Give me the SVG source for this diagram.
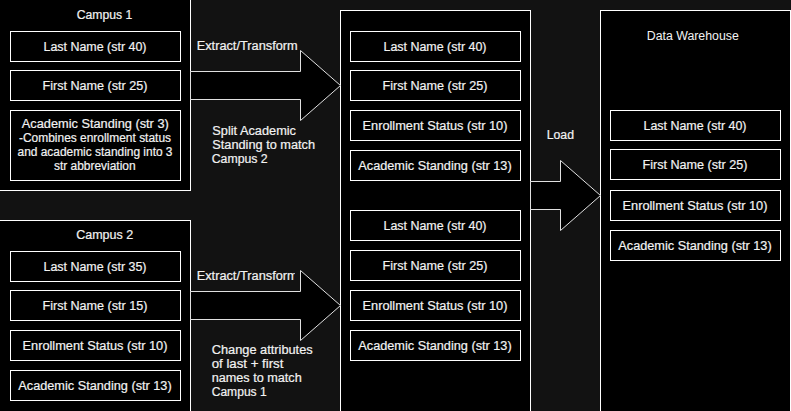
<svg xmlns="http://www.w3.org/2000/svg" width="791" height="411" viewBox="0 0 791 411">
<style>
.bg{fill:#121212}
.cont{fill:#000;stroke:#fff;stroke-width:1}
.box{fill:#000;stroke:#fff;stroke-width:1}
.arrow{fill:#000;stroke:#e0e0e0;stroke-width:1}
text{font-family:"Liberation Sans",Arial,Helvetica,sans-serif;font-size:12.3px;fill:#f2f2f2;stroke:#f2f2f2;stroke-width:0.2px}
.c{text-anchor:middle}
.thin{stroke:none}
</style>
<defs>
<clipPath id="lblclip"><rect x="180" y="260" width="114.8" height="30"/></clipPath>
</defs>
<rect class="bg" x="0" y="0" width="791" height="411"/>

<g id="campus1">
<rect class="cont" x="-10" y="-10" width="200.5" height="200.5"/>
<text class="c" x="104.5" y="19" textLength="55.6" lengthAdjust="spacingAndGlyphs">Campus 1</text>
<rect class="box" x="10.5" y="31.5" width="170" height="30"/>
<text class="c" x="95" y="50.5" textLength="103" lengthAdjust="spacingAndGlyphs">Last Name (str 40)</text>
<rect class="box" x="10.5" y="70.5" width="170" height="30"/>
<text class="c" x="95" y="89.5" textLength="105" lengthAdjust="spacingAndGlyphs">First Name (str 25)</text>
<rect class="box" x="10.5" y="110.5" width="170" height="70"/>
<text class="c" x="95.3" y="128" textLength="147" lengthAdjust="spacingAndGlyphs">Academic Standing (str 3)</text>
<text class="c" x="95" y="142" textLength="152" lengthAdjust="spacingAndGlyphs">-Combines enrollment status</text>
<text class="c" x="95" y="156" textLength="155" lengthAdjust="spacingAndGlyphs">and academic standing into 3</text>
<text class="c" x="94.8" y="170" textLength="81.7" lengthAdjust="spacingAndGlyphs">str abbreviation</text>
</g>

<g id="campus2">
<rect class="cont" x="-10" y="220.5" width="200.5" height="200"/>
<text class="c" x="104.7" y="239" textLength="57" lengthAdjust="spacingAndGlyphs">Campus 2</text>
<rect class="box" x="10.5" y="251.5" width="170" height="30"/>
<text class="c" x="95" y="270.5" textLength="103" lengthAdjust="spacingAndGlyphs">Last Name (str 35)</text>
<rect class="box" x="10.5" y="290.5" width="170" height="30"/>
<text class="c" x="95" y="309.5" textLength="105" lengthAdjust="spacingAndGlyphs">First Name (str 15)</text>
<rect class="box" x="10.5" y="330.5" width="170" height="30"/>
<text class="c" x="95" y="349.5" textLength="145" lengthAdjust="spacingAndGlyphs">Enrollment Status (str 10)</text>
<rect class="box" x="10.5" y="370.5" width="170" height="30"/>
<text class="c" x="95" y="389.5" textLength="153.4" lengthAdjust="spacingAndGlyphs">Academic Standing (str 13)</text>
</g>

<g id="staging">
<rect class="cont" x="340.5" y="10.5" width="190" height="420"/>
<rect class="box" x="350.5" y="31.5" width="170" height="30"/>
<text class="c" x="435" y="50.5" textLength="103" lengthAdjust="spacingAndGlyphs">Last Name (str 40)</text>
<rect class="box" x="350.5" y="70.5" width="170" height="30"/>
<text class="c" x="435" y="89.5" textLength="105" lengthAdjust="spacingAndGlyphs">First Name (str 25)</text>
<rect class="box" x="350.5" y="110.5" width="170" height="30"/>
<text class="c" x="435" y="129.5" textLength="145" lengthAdjust="spacingAndGlyphs">Enrollment Status (str 10)</text>
<rect class="box" x="350.5" y="150.5" width="170" height="30"/>
<text class="c" x="435" y="169.5" textLength="153.4" lengthAdjust="spacingAndGlyphs">Academic Standing (str 13)</text>
<rect class="box" x="350.5" y="210.5" width="170" height="30"/>
<text class="c" x="435" y="229.5" textLength="103" lengthAdjust="spacingAndGlyphs">Last Name (str 40)</text>
<rect class="box" x="350.5" y="250.5" width="170" height="30"/>
<text class="c" x="435" y="269.5" textLength="105" lengthAdjust="spacingAndGlyphs">First Name (str 25)</text>
<rect class="box" x="350.5" y="290.5" width="170" height="30"/>
<text class="c" x="435" y="309.5" textLength="145" lengthAdjust="spacingAndGlyphs">Enrollment Status (str 10)</text>
<rect class="box" x="350.5" y="330.5" width="170" height="30"/>
<text class="c" x="435" y="349.5" textLength="153.4" lengthAdjust="spacingAndGlyphs">Academic Standing (str 13)</text>
</g>

<g id="warehouse">
<rect class="cont" x="600.5" y="10.5" width="190" height="420"/>
<text class="c thin" x="692.8" y="40" textLength="92" lengthAdjust="spacingAndGlyphs">Data Warehouse</text>
<rect class="box" x="610.5" y="110.5" width="170" height="30"/>
<text class="c" x="695" y="129.5" textLength="103" lengthAdjust="spacingAndGlyphs">Last Name (str 40)</text>
<rect class="box" x="610.5" y="149.5" width="170" height="30"/>
<text class="c" x="695" y="168.5" textLength="105" lengthAdjust="spacingAndGlyphs">First Name (str 25)</text>
<rect class="box" x="610.5" y="190.5" width="170" height="30"/>
<text class="c" x="695" y="209.5" textLength="145" lengthAdjust="spacingAndGlyphs">Enrollment Status (str 10)</text>
<rect class="box" x="610.5" y="230.5" width="170" height="30"/>
<text class="c" x="695" y="249.5" textLength="153.4" lengthAdjust="spacingAndGlyphs">Academic Standing (str 13)</text>
</g>

<g id="labels">
<text x="196.7" y="49.5" textLength="101" lengthAdjust="spacingAndGlyphs">Extract/Transform</text>
<text x="212.3" y="135" textLength="83.7" lengthAdjust="spacingAndGlyphs">Split Academic</text>
<text x="212.3" y="149" textLength="102.7" lengthAdjust="spacingAndGlyphs">Standing to match</text>
<text x="211.7" y="163" textLength="56" lengthAdjust="spacingAndGlyphs">Campus 2</text>
<text x="196.7" y="279.5" textLength="101" lengthAdjust="spacingAndGlyphs" clip-path="url(#lblclip)">Extract/Transform</text>
<text x="211.7" y="354" textLength="101" lengthAdjust="spacingAndGlyphs">Change attributes</text>
<text x="211.7" y="368" textLength="71.7" lengthAdjust="spacingAndGlyphs">of last + first</text>
<text x="211.7" y="382" textLength="90" lengthAdjust="spacingAndGlyphs">names to match</text>
<text x="211.7" y="396" textLength="55" lengthAdjust="spacingAndGlyphs">Campus 1</text>
<text x="546.7" y="139" textLength="27.3" lengthAdjust="spacingAndGlyphs">Load</text>
</g>

<g id="connectors">
<polygon class="arrow" points="190.5,71.5 300.5,71.5 300.5,50.5 340.5,85.5 300.5,120.5 300.5,99.5 190.5,99.5"/>
<polygon class="arrow" points="190.5,291.5 300.5,291.5 300.5,270.5 340.5,305.5 300.5,340.5 300.5,319.5 190.5,319.5"/>
<polygon class="arrow" points="530.5,181.5 560.5,181.5 560.5,160.5 600.5,195.5 560.5,230.5 560.5,209.5 530.5,209.5"/>
</g>
</svg>
